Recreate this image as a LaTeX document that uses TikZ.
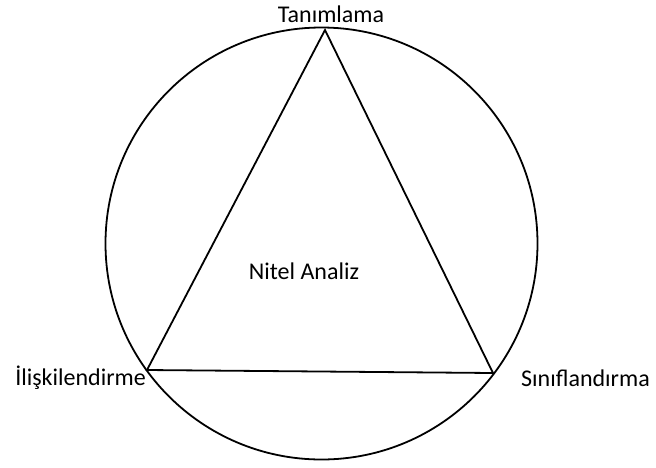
\documentclass[tikz,border=0pt]{standalone}
\usepackage{fontspec}
\setmainfont{Carlito}
\usetikzlibrary{positioning}

\begin{document}
\begin{tikzpicture}[
  x=1pt, y=-1pt,
  font=\fontsize{24}{28}\selectfont,
  lbl/.style={inner sep=0pt, align=center},
  edge/.style={line width=1.8pt, line join=miter},
  ring/.style={line width=1.8pt}]
\useasboundingbox (0,0) rectangle (656,467);
\coordinate (ctr) at (321.5,243.5);
\coordinate (top) at (325,30);
\coordinate (left) at (147,370);
\coordinate (right) at (493,373);
\draw[ring] (ctr) circle[radius=216pt];
\draw[edge] (top) -- (left) -- (right) -- cycle;
\node[lbl] (tan) at (331,14) {Tanımlama};
\node[lbl, anchor=east] (ilis) at (146,378) {İlişkilendirme};
\node[lbl, anchor=west] (sin) at (521,378) {Sınıflandırma};
\node[lbl] (nitel) at (304,271) {Nitel Analiz};
\end{tikzpicture}
\end{document}
